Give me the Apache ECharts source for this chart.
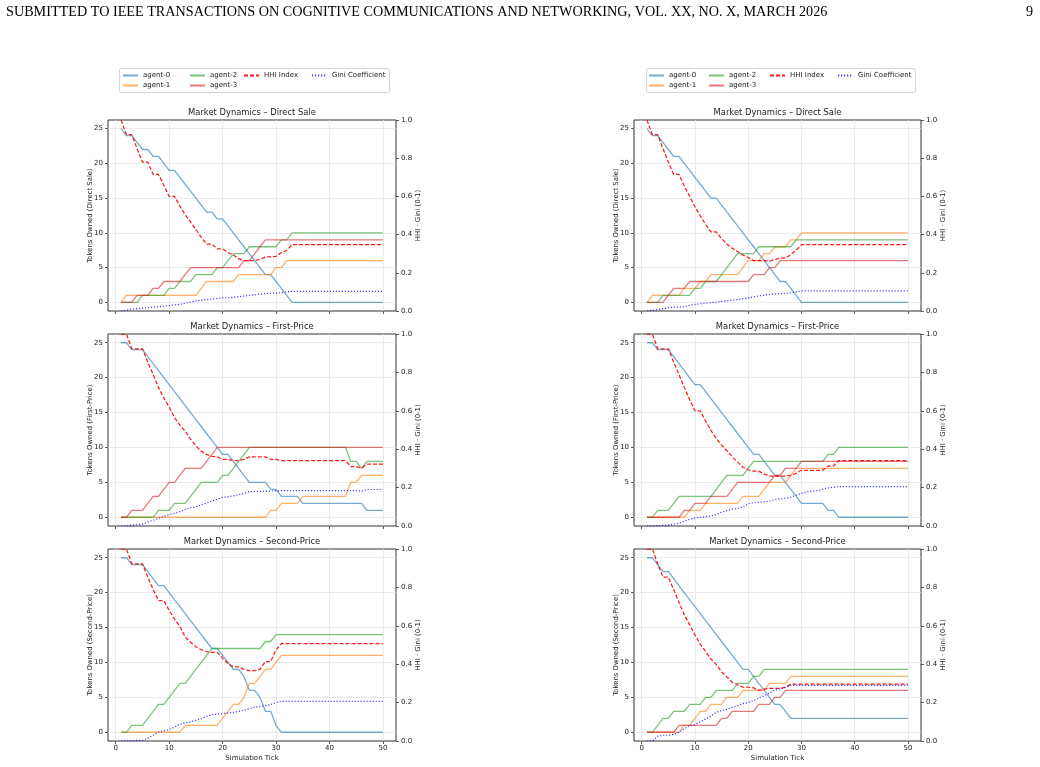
<!DOCTYPE html>
<html><head><meta charset="utf-8">
<script src="https://cdn.jsdelivr.net/npm/echarts@6/dist/echarts.min.js"></script>
<style>html,body{margin:0;padding:0;background:#fff;}#c{width:1040px;height:767px;}</style>
</head><body><div id="c"></div><script>
// ---------- data ----------
const ticks = [1,2,3,4,5,6,7,8,9,10,11,12,13,14,15,16,17,18,19,20,21,22,23,24,25,26,27,28,29,30,31,32,33,34,35,36,37,38,39,40,41,42,43,44,45,46,47,48,49,50];
const xTickLabels = [0,10,20,30,40,50];
const yTickLabels = [0,5,10,15,20,25];
const agentNames = ['agent-0','agent-1','agent-2','agent-3'];

// Direct Sale, left
const dsL_agent0 = [25,24,24,23,22,22,21,21,20,19,19,18,17,16,15,14,13,13,12,12,11,10,9,8,7,6,5,4,4,3,2,1,0,0,0,0,0,0,0,0,0,0,0,0,0,0,0,0,0,0];
const dsL_agent1 = [0,1,1,1,1,1,1,1,1,1,1,1,1,1,1,2,3,3,3,3,3,3,4,4,4,4,4,4,4,5,5,6,6,6,6,6,6,6,6,6,6,6,6,6,6,6,6,6,6,6];
const dsL_agent2 = [0,0,0,0,1,1,1,1,1,2,2,3,3,3,4,4,4,4,5,5,6,7,7,7,8,8,8,8,8,8,9,9,10,10,10,10,10,10,10,10,10,10,10,10,10,10,10,10,10,10];
const dsL_agent3 = [0,0,0,1,1,1,2,2,3,3,3,3,4,5,5,5,5,5,5,5,5,5,5,6,6,7,8,9,9,9,9,9,9,9,9,9,9,9,9,9,9,9,9,9,9,9,9,9,9,9];
const dsL_hhi = [1,0.923,0.923,0.850,0.779,0.779,0.715,0.715,0.658,0.600,0.600,0.549,0.504,0.466,0.427,0.386,0.350,0.350,0.325,0.325,0.306,0.293,0.274,0.264,0.264,0.264,0.270,0.283,0.283,0.286,0.306,0.318,0.347,0.347,0.347,0.347,0.347,0.347,0.347,0.347,0.347,0.347,0.347,0.347,0.347,0.347,0.347,0.347,0.347,0.347];
const dsL_gini = [0,0.005,0.01,0.012,0.015,0.018,0.02,0.022,0.025,0.028,0.032,0.035,0.04,0.047,0.053,0.057,0.061,0.063,0.066,0.068,0.07,0.072,0.075,0.078,0.082,0.085,0.088,0.091,0.093,0.094,0.097,0.1,0.103,0.103,0.103,0.103,0.103,0.103,0.103,0.103,0.103,0.103,0.103,0.103,0.103,0.103,0.103,0.103,0.103,0.103];

// Direct Sale, right
const dsR_agent0 = [25,24,24,23,22,21,21,20,19,18,17,16,15,15,14,13,12,11,10,9,8,7,6,5,4,3,3,2,1,0,0,0,0,0,0,0,0,0,0,0,0,0,0,0,0,0,0,0,0,0];
const dsR_agent1 = [0,1,1,1,1,1,1,2,2,2,3,3,4,4,4,4,4,4,5,6,6,6,7,7,8,8,8,9,9,10,10,10,10,10,10,10,10,10,10,10,10,10,10,10,10,10,10,10,10,10];
const dsR_agent2 = [0,0,0,1,1,1,1,1,1,2,2,3,3,3,4,5,6,7,7,7,7,8,8,8,8,8,8,8,9,9,9,9,9,9,9,9,9,9,9,9,9,9,9,9,9,9,9,9,9,9];
const dsR_agent3 = [0,0,0,0,1,2,2,2,3,3,3,3,3,3,3,3,3,3,3,3,4,4,4,5,5,6,6,6,6,6,6,6,6,6,6,6,6,6,6,6,6,6,6,6,6,6,6,6,6,6];
const dsR_hhi = [1,0.923,0.923,0.850,0.779,0.715,0.715,0.654,0.600,0.546,0.498,0.453,0.414,0.414,0.379,0.350,0.328,0.312,0.293,0.280,0.264,0.264,0.264,0.261,0.270,0.277,0.277,0.296,0.318,0.347,0.347,0.347,0.347,0.347,0.347,0.347,0.347,0.347,0.347,0.347,0.347,0.347,0.347,0.347,0.347,0.347,0.347,0.347,0.347,0.347];
const dsR_gini = [0,0.004,0.008,0.012,0.016,0.02,0.021,0.022,0.03,0.035,0.038,0.041,0.044,0.047,0.05,0.054,0.057,0.06,0.064,0.069,0.074,0.079,0.083,0.086,0.089,0.091,0.093,0.096,0.1,0.105,0.105,0.105,0.105,0.105,0.105,0.105,0.105,0.105,0.105,0.105,0.105,0.105,0.105,0.105,0.105,0.105,0.105,0.105,0.105,0.105];

// First-Price, left
const fpL_agent0 = [25,25,24,24,24,23,22,21,20,19,18,17,16,15,14,13,12,11,10,9,9,8,7,6,5,5,5,5,4,4,3,3,3,3,2,2,2,2,2,2,2,2,2,2,2,2,1,1,1,1];
const fpL_agent1 = [0,0,0,0,0,0,0,0,0,0,0,0,0,0,0,0,0,0,0,0,0,0,0,0,0,0,0,0,1,1,2,2,2,2,3,3,3,3,3,3,3,3,3,5,5,6,6,6,6,6];
const fpL_agent2 = [0,0,0,0,0,0,0,1,1,1,2,2,2,3,4,5,5,5,5,6,6,7,8,9,10,10,10,10,10,10,10,10,10,10,10,10,10,10,10,10,10,10,10,8,8,7,8,8,8,8];
const fpL_agent3 = [0,0,1,1,1,2,3,3,4,5,5,6,7,7,7,7,8,9,10,10,10,10,10,10,10,10,10,10,10,10,10,10,10,10,10,10,10,10,10,10,10,10,10,10,10,10,10,10,10,10];
const fpL_hhi = [1,1,0.923,0.923,0.923,0.853,0.789,0.722,0.667,0.619,0.565,0.526,0.494,0.453,0.418,0.389,0.373,0.363,0.360,0.347,0.347,0.341,0.341,0.347,0.360,0.360,0.360,0.360,0.347,0.347,0.341,0.341,0.341,0.341,0.341,0.341,0.341,0.341,0.341,0.341,0.341,0.341,0.341,0.309,0.309,0.302,0.322,0.322,0.322,0.322];
const fpL_gini = [0,0,0.005,0.007,0.01,0.02,0.03,0.04,0.05,0.06,0.065,0.075,0.085,0.095,0.1,0.11,0.12,0.13,0.14,0.15,0.152,0.157,0.163,0.17,0.178,0.18,0.18,0.181,0.182,0.183,0.184,0.184,0.184,0.184,0.184,0.184,0.184,0.184,0.184,0.184,0.184,0.184,0.184,0.184,0.184,0.181,0.19,0.19,0.19,0.19];

// First-Price, right
const fpR_agent0 = [25,25,24,24,24,23,22,21,20,19,19,18,17,16,15,14,13,12,11,10,9,9,8,7,6,6,5,4,3,2,2,2,2,2,1,1,0,0,0,0,0,0,0,0,0,0,0,0,0,0];
const fpR_agent1 = [0,0,0,0,0,0,0,0,1,1,1,2,2,2,2,2,2,2,3,3,3,3,4,5,5,5,5,6,7,7,7,7,7,7,7,7,7,7,7,7,7,7,7,7,7,7,7,7,7,7];
const fpR_agent2 = [0,0,1,1,1,2,3,3,3,3,3,3,3,4,5,6,6,6,6,7,8,8,8,8,8,8,8,8,8,8,8,8,8,8,9,9,10,10,10,10,10,10,10,10,10,10,10,10,10,10];
const fpR_agent3 = [0,0,0,0,0,0,0,1,1,2,2,2,3,3,3,3,4,5,5,5,5,5,5,5,6,6,7,7,7,8,8,8,8,8,8,8,8,8,8,8,8,8,8,8,8,8,8,8,8,8];
const fpR_hhi = [1,1,0.923,0.923,0.923,0.853,0.789,0.722,0.658,0.600,0.600,0.546,0.498,0.456,0.421,0.392,0.360,0.334,0.306,0.293,0.286,0.286,0.270,0.261,0.258,0.258,0.261,0.264,0.274,0.290,0.290,0.290,0.290,0.290,0.312,0.312,0.341,0.341,0.341,0.341,0.341,0.341,0.341,0.341,0.341,0.341,0.341,0.341,0.341,0.341];
const fpR_gini = [0,0,0.002,0.003,0.005,0.01,0.015,0.025,0.035,0.042,0.045,0.048,0.052,0.06,0.072,0.08,0.088,0.092,0.1,0.115,0.122,0.124,0.126,0.13,0.138,0.142,0.145,0.15,0.16,0.17,0.178,0.182,0.185,0.192,0.198,0.202,0.205,0.205,0.205,0.205,0.205,0.205,0.205,0.205,0.205,0.205,0.205,0.205,0.205,0.205];

// Second-Price, left (agent-3 not drawn in the reference)
const spL_agent0 = [25,25,24,24,24,23,22,21,21,20,19,18,17,16,15,14,13,12,12,11,10,9,9,8,6,6,5,3,3,1,0,0,0,0,0,0,0,0,0,0,0,0,0,0,0,0,0,0,0,0];
const spL_agent1 = [0,0,0,0,0,0,0,0,0,0,0,0,1,1,1,1,1,1,1,2,3,4,4,5,7,7,8,9,9,10,11,11,11,11,11,11,11,11,11,11,11,11,11,11,11,11,11,11,11,11];
const spL_agent2 = [0,0,1,1,1,2,3,4,4,5,6,7,7,8,9,10,11,12,12,12,12,12,12,12,12,12,12,13,13,14,14,14,14,14,14,14,14,14,14,14,14,14,14,14,14,14,14,14,14,14];
const spL_agent3 = null;
const spL_hhi = [1,1,0.923,0.923,0.923,0.853,0.789,0.731,0.731,0.680,0.635,0.597,0.542,0.514,0.491,0.475,0.466,0.462,0.462,0.430,0.405,0.386,0.386,0.373,0.366,0.366,0.373,0.414,0.414,0.475,0.507,0.507,0.507,0.507,0.507,0.507,0.507,0.507,0.507,0.507,0.507,0.507,0.507,0.507,0.507,0.507,0.507,0.507,0.507,0.507];
const spL_gini = [0,0,0.002,0.003,0.004,0.015,0.03,0.047,0.052,0.06,0.072,0.087,0.094,0.1,0.108,0.117,0.128,0.138,0.14,0.143,0.146,0.149,0.154,0.16,0.168,0.175,0.18,0.184,0.19,0.2,0.206,0.206,0.206,0.206,0.206,0.206,0.206,0.206,0.206,0.206,0.206,0.206,0.206,0.206,0.206,0.206,0.206,0.206,0.206,0.206];

// Second-Price, right
const spR_agent0 = [25,25,24,23,23,22,21,20,19,18,17,16,15,14,13,12,11,10,9,9,8,7,6,5,4,4,3,2,2,2,2,2,2,2,2,2,2,2,2,2,2,2,2,2,2,2,2,2,2,2];
const spR_agent1 = [0,0,0,0,0,0,0,1,1,2,3,3,4,4,4,5,5,5,6,6,6,6,6,7,7,7,7,8,8,8,8,8,8,8,8,8,8,8,8,8,8,8,8,8,8,8,8,8,8,8];
const spR_agent2 = [0,0,1,2,2,3,3,3,4,4,4,5,5,6,6,6,6,7,7,7,8,8,9,9,9,9,9,9,9,9,9,9,9,9,9,9,9,9,9,9,9,9,9,9,9,9,9,9,9,9];
const spR_agent3 = [0,0,0,0,0,0,1,1,1,1,1,1,1,1,2,2,3,3,3,3,3,4,4,4,5,5,6,6,6,6,6,6,6,6,6,6,6,6,6,6,6,6,6,6,6,6,6,6,6,6];
const spR_hhi = [1,1,0.923,0.853,0.853,0.789,0.722,0.658,0.606,0.552,0.504,0.466,0.427,0.398,0.360,0.334,0.306,0.293,0.280,0.280,0.277,0.264,0.270,0.274,0.274,0.274,0.280,0.296,0.296,0.296,0.296,0.296,0.296,0.296,0.296,0.296,0.296,0.296,0.296,0.296,0.296,0.296,0.296,0.296,0.296,0.296,0.296,0.296,0.296,0.296];
const spR_gini = [0,0,0.025,0.03,0.03,0.035,0.045,0.065,0.08,0.085,0.1,0.115,0.13,0.15,0.158,0.165,0.175,0.185,0.195,0.2,0.21,0.225,0.235,0.25,0.265,0.272,0.28,0.29,0.29,0.29,0.29,0.29,0.29,0.29,0.29,0.29,0.29,0.29,0.29,0.29,0.29,0.29,0.29,0.29,0.29,0.29,0.29,0.29,0.29,0.29];

const panelTitles = ['Market Dynamics – Direct Sale','Market Dynamics – First-Price','Market Dynamics – Second-Price'];
const yNames = ['Tokens Owned (Direct Sale)','Tokens Owned (First-Price)','Tokens Owned (Second-Price)'];
const rightName = 'HHI · Gini (0-1)';
const xName = 'Simulation Tick';

// ---------- layout ----------
const FONT = 'DejaVu Sans';
const colX = [[108, 288], [634, 287]];
const rowY = [[120, 191], [334, 192], [549, 192]];
const agentColors = ['#1f77b4','#ff7f0e','#2ca02c','#d62728'];

const panels = [
  {row:0,col:0,a:[dsL_agent0,dsL_agent1,dsL_agent2,dsL_agent3],hhi:dsL_hhi,gini:dsL_gini},
  {row:0,col:1,a:[dsR_agent0,dsR_agent1,dsR_agent2,dsR_agent3],hhi:dsR_hhi,gini:dsR_gini},
  {row:1,col:0,a:[fpL_agent0,fpL_agent1,fpL_agent2,fpL_agent3],hhi:fpL_hhi,gini:fpL_gini},
  {row:1,col:1,a:[fpR_agent0,fpR_agent1,fpR_agent2,fpR_agent3],hhi:fpR_hhi,gini:fpR_gini},
  {row:2,col:0,a:[spL_agent0,spL_agent1,spL_agent2,spL_agent3],hhi:spL_hhi,gini:spL_gini},
  {row:2,col:1,a:[spR_agent0,spR_agent1,spR_agent2,spR_agent3],hhi:spR_hhi,gini:spR_gini}
];

const grid = [], xAxis = [], yAxis = [], series = [], graphic = [];
const axisColor = '#333';
const labelColor = '#222';
const gridLine = {show:true, lineStyle:{color:'#e6e6e6', width:0.8}};

panels.forEach((p, i) => {
  const [gl, gw] = colX[p.col];
  const [gt, gh] = rowY[p.row];
  grid.push({left:gl, top:gt, width:gw, height:gh, show:true, borderColor:axisColor, borderWidth:1, backgroundColor:'transparent', containLabel:false});
  xAxis.push({
    type:'value', gridIndex:i, min:-1.45, max:52.45,
    axisLine:{show:false, onZero:false},
    axisTick:{show:true, length:3, customValues:xTickLabels, lineStyle:{color:axisColor, width:0.8}},
    axisLabel:{show:p.row===2, customValues:xTickLabels, margin:4, fontSize:7, color:labelColor, fontFamily:FONT},
    splitLine:gridLine
  });
  yAxis.push({
    type:'value', gridIndex:i, position:'left', min:-1.25, max:26.25,
    axisLine:{show:false, onZero:false},
    axisTick:{show:true, length:3, customValues:yTickLabels, lineStyle:{color:axisColor, width:0.8}},
    axisLabel:{show:true, customValues:yTickLabels, margin:5, fontSize:7, color:labelColor, fontFamily:FONT},
    splitLine:gridLine
  });
  yAxis.push({
    type:'value', gridIndex:i, position:'right', min:0, max:1, interval:0.2,
    axisLine:{show:false, onZero:false},
    axisTick:{show:true, length:3, lineStyle:{color:axisColor, width:0.8}},
    axisLabel:{show:true, margin:5, fontSize:7, color:labelColor, fontFamily:FONT, formatter:v=>v.toFixed(1)},
    splitLine:{show:false}
  });
  p.a.forEach((arr, k) => {
    if (!arr) return;
    series.push({
      type:'line', name:agentNames[k], xAxisIndex:i, yAxisIndex:2*i,
      data:ticks.map((t, j) => [t, arr[j]]),
      symbol:'none', silent:true, animation:false,
      lineStyle:{color:agentColors[k], width:1.3, opacity:0.62},
      itemStyle:{color:agentColors[k], opacity:0.62}
    });
  });
  series.push({
    type:'line', name:'HHI Index', xAxisIndex:i, yAxisIndex:2*i+1,
    data:ticks.map((t, j) => [t, p.hhi[j]]),
    symbol:'none', silent:true, animation:false,
    lineStyle:{color:'#ff0000', width:1.25, type:[4,2], opacity:0.9},
    itemStyle:{color:'#ff0000'}
  });
  series.push({
    type:'line', name:'Gini Coefficient', xAxisIndex:i, yAxisIndex:2*i+1,
    data:ticks.map((t, j) => [t, p.gini[j]]),
    symbol:'none', silent:true, animation:false,
    lineStyle:{color:'#0000ff', width:1.2, type:[1.2,1.8], opacity:0.75},
    itemStyle:{color:'#0000ff'}
  });
  // titles and axis names
  graphic.push({type:'text', x:gl+gw/2, y:gt-7.5, silent:true,
    style:{text:panelTitles[p.row], fontSize:8.4, fontFamily:FONT, fill:labelColor, align:'center', verticalAlign:'middle'}});
  graphic.push({type:'text', x:gl-18, y:gt+gh/2, rotation:Math.PI/2, silent:true,
    style:{text:yNames[p.row], fontSize:6.9, fontFamily:FONT, fill:labelColor, align:'center', verticalAlign:'middle'}});
  graphic.push({type:'text', x:gl+gw+22, y:gt+gh/2, rotation:Math.PI/2, silent:true,
    style:{text:rightName, fontSize:6.9, fontFamily:FONT, fill:labelColor, align:'center', verticalAlign:'middle'}});
  if (p.row === 2) {
    graphic.push({type:'text', x:gl+gw/2, y:gt+gh+17, silent:true,
      style:{text:xName, fontSize:7, fontFamily:FONT, fill:labelColor, align:'center', verticalAlign:'middle'}});
  }
});

// header
graphic.push({type:'text', x:6, y:12, silent:true,
  style:{text:'SUBMITTED TO IEEE TRANSACTIONS ON COGNITIVE COMMUNICATIONS AND NETWORKING, VOL. XX, NO. X, MARCH 2026', fontSize:14.2, fontFamily:'Liberation Serif', fill:'#000', align:'left', verticalAlign:'middle'}});
graphic.push({type:'text', x:1033, y:12, silent:true,
  style:{text:'9', fontSize:14.2, fontFamily:'Liberation Serif', fill:'#000', align:'right', verticalAlign:'middle'}});

// legend boxes
[[119, 270], [646, 269]].forEach(([lx, lw]) => {
  graphic.push({type:'rect', silent:true, z:0, shape:{x:lx+0.5, y:68.5, width:lw, height:24, r:2},
    style:{fill:'#fff', stroke:'#cccccc', lineWidth:0.8}});
});

// legends (column-major like the reference)
const legendCols = [
  {names:['agent-0','agent-1'], xs:[122, 648]},
  {names:['agent-2','agent-3'], xs:[189, 708]},
  {names:['HHI Index'], xs:[243, 769]},
  {names:['Gini Coefficient'], xs:[311, 837]}
];
const legend = [];
legendCols.forEach(c => {
  c.xs.forEach(lx => {
    legend.push({
      left:lx, top:71.5, orient:'vertical', padding:0, itemGap:2,
      itemWidth:15, itemHeight:8, z:5, selectedMode:false,
      data:c.names,
      itemStyle:{opacity:0, borderWidth:0},
      textStyle:{fontSize:7, fontFamily:FONT, color:labelColor, padding:[0,0,0,0], lineHeight:8}
    });
  });
});

const chart = echarts.init(document.getElementById('c'), null, {renderer:'canvas'});
chart.setOption({
  backgroundColor:'#fff',
  animation:false,
  textStyle:{fontFamily:FONT},
  grid, xAxis, yAxis, series, graphic, legend
});
</script></body></html>
